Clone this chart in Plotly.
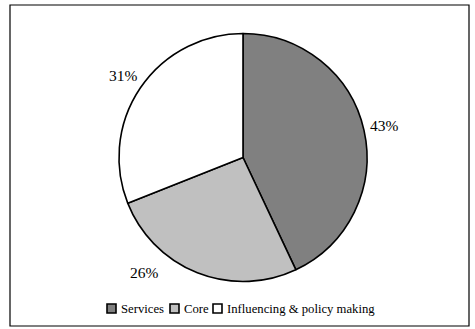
import math
import plotly.graph_objects as go

# Share of spending by activity
categories = ["Services", "Core", "Influencing & policy making"]
shares = [43, 26, 31]

# Styling
fills = ["#808080", "#c0c0c0", "#ffffff"]
W, H = 475, 329
cx, cy, R = 243, 157.5, 124          # pie centre and radius, px
label_radius = [145, 152, 145]       # distance of each % label from centre, px
label_nudge_deg = [0, 19, 0]         # small angular shift for label fit
serif = "Liberation Serif, Times New Roman, serif"

fig = go.Figure()
fig.add_trace(go.Pie(
    labels=categories,
    values=shares,
    sort=False,
    direction="clockwise",
    rotation=0,
    marker=dict(colors=fills, line=dict(color="black", width=1.6)),
    textinfo="none",
    hoverinfo="label+percent",
    showlegend=False,
    domain=dict(x=[(cx - R) / W, (cx + R) / W],
                y=[1 - (cy + R) / H, 1 - (cy - R) / H]),
))

# Percentage labels placed outside the slices, along each slice's mid angle
total = sum(shares)
cum = 0
annotations = []
for i, v in enumerate(shares):
    mid = (cum + v / 2) / total * 360 + label_nudge_deg[i]
    cum += v
    a = math.radians(mid)
    x = cx + label_radius[i] * math.sin(a)
    y = cy - label_radius[i] * math.cos(a)
    annotations.append(dict(
        x=x / W, y=1 - y / H, xref="paper", yref="paper",
        text=f"{round(v / total * 100)}%", showarrow=False,
        xanchor="center", yanchor="middle",
        font=dict(family=serif, size=15.5, color="black"),
    ))

# Legend row: outlined swatch followed by its label
legend_y = 308.5
swatch = 9
legend_x = [107, 170, 213]
shapes = [dict(type="rect", xref="paper", yref="paper",
               x0=10 / W, x1=469 / W, y0=1 - 326 / H, y1=1 - 5 / H,
               line=dict(color="black", width=1.2), fillcolor="rgba(0,0,0,0)")]
for name, col, lx in zip(categories, fills, legend_x):
    shapes.append(dict(type="rect", xref="paper", yref="paper",
                       x0=lx / W, x1=(lx + swatch) / W,
                       y0=1 - (legend_y + swatch / 2) / H,
                       y1=1 - (legend_y - swatch / 2) / H,
                       fillcolor=col, line=dict(color="black", width=1.6)))
    annotations.append(dict(
        x=(lx + swatch + 3) / W, y=1 - legend_y / H, xref="paper", yref="paper",
        text=name, showarrow=False, xanchor="left", yanchor="middle",
        font=dict(family=serif, size=12.7, color="black"),
    ))

fig.update_layout(
    width=W, height=H,
    margin=dict(l=0, r=0, t=0, b=0),
    paper_bgcolor="white",
    plot_bgcolor="white",
    annotations=annotations,
    shapes=shapes,
)

fig.write_html("out.html")
